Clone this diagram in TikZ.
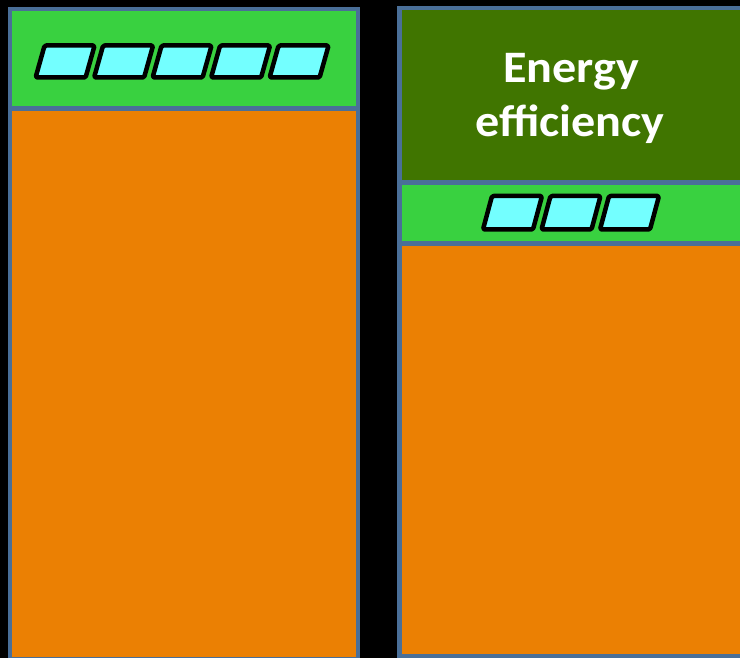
\documentclass[tikz,border=0pt]{standalone}
\usepackage{fontspec}
\setmainfont{Carlito}
\definecolor{bgblack}{RGB}{0,0,0}
\definecolor{frameblue}{RGB}{74,111,152}
\definecolor{layerorange}{RGB}{235,128,3}
\definecolor{layergreen}{RGB}{57,209,64}
\definecolor{layerdark}{RGB}{64,117,0}
\definecolor{cellcyan}{RGB}{115,255,255}
\tikzset{
  layer/.style={draw=frameblue, line width=4.5pt, rectangle, anchor=north west,
    inner sep=0pt, outer sep=0pt},
  cell/.style={draw=black, fill=cellcyan, line width=4.5pt, rounded corners=1.5pt,
    line join=round},
  title/.style={text=white, font=\bfseries\fontsize{45}{54}\selectfont, inner sep=0pt,
    anchor=base, xscale=1.07}
}
\begin{document}
\begin{tikzpicture}[x=1pt, y=-1pt]
  \fill[bgblack] (0,0) rectangle (740,658);
  \useasboundingbox (0,0) rectangle (740,658);

  % left stack
  \node[layer, fill=layerorange, minimum width=348pt, minimum height=551pt] (lorange) at (10,108.5) {};
  \node[layer, fill=layergreen, minimum width=348pt, minimum height=99.5pt] (lgreen) at (10,9) {};

  % right stack
  \node[layer, fill=layerorange, minimum width=348pt, minimum height=413pt] (rorange) at (399.5,243.5) {};
  \node[layer, fill=layergreen, minimum width=348pt, minimum height=61pt] (rgreen) at (399.5,182.5) {};
  \node[layer, fill=layerdark, minimum width=348pt, minimum height=174.5pt] (rdark) at (399.5,8) {};

  % cells
  \foreach \i in {0,...,4}{
    \pgfmathsetmacro{\xa}{35.6+58.5*\i}
    \draw[cell] (\xa,77.5) -- (\xa+9,45.5) -- (\xa+59,45.5) -- (\xa+50,77.5) -- cycle;
  }
  \foreach \i in {0,...,2}{
    \pgfmathsetmacro{\xa}{483+58.5*\i}
    \draw[cell] (\xa,229.5) -- (\xa+9,196) -- (\xa+59,196) -- (\xa+50,229.5) -- cycle;
  }

  % label
  \node[title] (t1) at (571,82.7) {Energy};
  \node[title] (t2) at (570,136.7) {efficiency};
\end{tikzpicture}
\end{document}
